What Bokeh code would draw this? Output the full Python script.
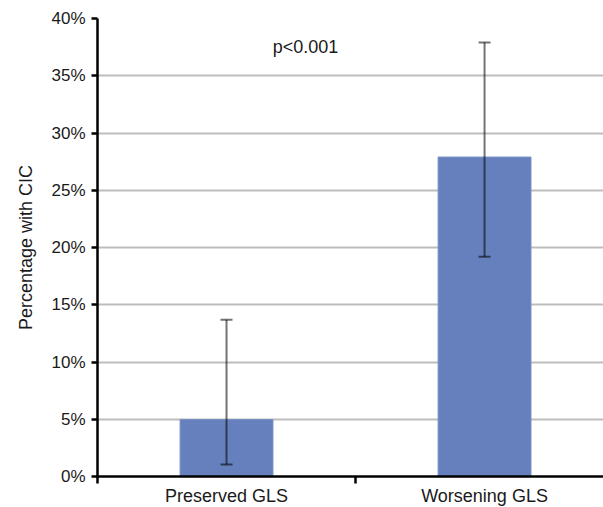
from bokeh.plotting import figure
from bokeh.models import (Range1d, FixedTicker, NumeralTickFormatter, Whisker,
                          ColumnDataSource, TeeHead, Label)
from bokeh.embed import file_html
from bokeh.resources import INLINE

categories = ["Preserved GLS", "Worsening GLS"]
percent = [0.0498, 0.279]
ci_low = [0.0105, 0.192]
ci_high = [0.137, 0.379]
y_ticks = [0, 0.05, 0.10, 0.15, 0.20, 0.25, 0.30, 0.35, 0.40]

xpos = [i + 0.5 for i in range(len(categories))]
src = ColumnDataSource(dict(x=xpos, top=percent, lo=ci_low, hi=ci_high))

FONT = "Liberation Sans"

p = figure(width=603, height=507, output_backend="svg", toolbar_location=None,
           x_range=Range1d(0, 1.961), y_range=Range1d(0, 0.40),
           min_border_left=97, min_border_right=0, min_border_top=18,
           min_border_bottom=31)
p.outline_line_color = None
p.background_fill_color = "white"

p.vbar(x="x", top="top", width=0.36, source=src, fill_color="#6580BD",
       line_color="#7a90c6", line_width=1)

w = Whisker(base="x", lower="lo", upper="hi", source=src, dimension="height",
            level="overlay",
            line_color="black", line_alpha=0.55, line_width=2,
            upper_head=TeeHead(size=12, line_color="black", line_alpha=0.55, line_width=2),
            lower_head=TeeHead(size=12, line_color="black", line_alpha=0.55, line_width=2))
p.add_layout(w)

# y axis
p.yaxis.ticker = FixedTicker(ticks=y_ticks)
p.yaxis.formatter = NumeralTickFormatter(format="0%")
p.yaxis.axis_line_color = "black"
p.yaxis.axis_line_width = 2.5
p.yaxis.major_tick_out = 6
p.yaxis.major_tick_in = 0
p.yaxis.major_tick_line_width = 2.5
p.yaxis.minor_tick_line_color = None
p.yaxis.major_label_text_font = FONT
p.yaxis.major_label_text_font_size = "17px"
p.yaxis.major_label_text_color = "#1a1a1a"
p.yaxis.major_label_standoff = 6
p.yaxis.axis_label = "Percentage with CIC"
p.yaxis.axis_label_text_font = FONT
p.yaxis.axis_label_text_font_size = "18px"
p.yaxis.axis_label_text_font_style = "normal"
p.yaxis.axis_label_text_color = "#1a1a1a"
p.yaxis.axis_label_standoff = 12

# x axis
p.xaxis.ticker = FixedTicker(ticks=xpos, minor_ticks=[0, 1, 2])
p.xaxis.major_label_overrides = {x: c for x, c in zip(xpos, categories)}
p.xaxis.axis_line_color = "black"
p.xaxis.axis_line_width = 2.5
p.xaxis.major_tick_out = 0
p.xaxis.major_tick_in = 0
p.xaxis.major_tick_line_color = None
p.xaxis.minor_tick_out = 7
p.xaxis.minor_tick_in = 0
p.xaxis.minor_tick_line_width = 2.5
p.xaxis.minor_tick_line_color = "black"
p.xaxis.major_label_text_font = FONT
p.xaxis.major_label_text_font_size = "18px"
p.xaxis.major_label_text_color = "#1a1a1a"
p.xaxis.major_label_standoff = 2
p.xaxis.axis_label_standoff = 0

p.xgrid.grid_line_color = None
p.ygrid.ticker = FixedTicker(ticks=y_ticks)
p.ygrid.grid_line_color = "#bdbdbd"
p.ygrid.grid_line_width = 2

p.add_layout(Label(x=0.806, y=0.3755, text="p<0.001", text_font=FONT,
                   text_font_size="18px", text_color="#1a1a1a",
                   text_align="center", text_baseline="middle"))

# keep the frame at the reference position
p.frame_height = 458
p.frame_width = 506

open("out.html", "w").write(file_html(p, INLINE))
